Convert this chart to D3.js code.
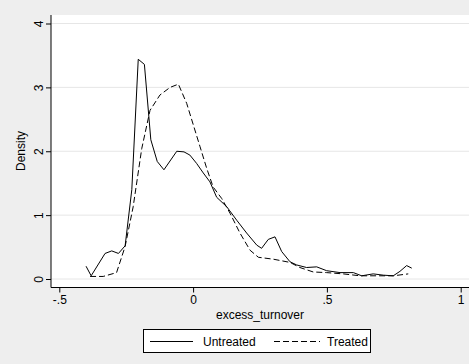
<!DOCTYPE html>
<html><head><meta charset="utf-8">
<script src="https://cdn.jsdelivr.net/npm/d3@7"></script>
<style>body{margin:0;background:#eeeeee}svg{display:block}</style>
</head><body>
<script>
const untreatedX = [-0.400,-0.381,-0.329,-0.304,-0.279,-0.254,-0.229,-0.205,-0.182,-0.158,-0.134,-0.109,-0.061,-0.034,-0.012,0.013,0.038,0.063,0.088,0.126,0.163,0.200,0.238,0.256,0.281,0.306,0.331,0.362,0.387,0.424,0.462,0.499,0.549,0.599,0.630,0.673,0.711,0.748,0.773,0.798,0.817];
const untreatedY = [0.20,0.05,0.40,0.44,0.40,0.52,1.40,3.44,3.36,2.18,1.84,1.71,2.00,1.99,1.94,1.81,1.66,1.52,1.28,1.13,0.92,0.72,0.53,0.48,0.62,0.66,0.43,0.27,0.22,0.18,0.19,0.13,0.10,0.10,0.05,0.08,0.06,0.05,0.12,0.21,0.17];
const treatedX = [-0.385,-0.336,-0.286,-0.254,-0.224,-0.192,-0.161,-0.124,-0.086,-0.055,-0.024,0.001,0.026,0.051,0.075,0.107,0.138,0.175,0.213,0.244,0.300,0.362,0.399,0.449,0.499,0.561,0.624,0.686,0.748,0.804];
const treatedY = [0.04,0.04,0.10,0.51,1.13,2.04,2.64,2.88,3.00,3.05,2.75,2.41,2.07,1.73,1.44,1.26,1.03,0.72,0.45,0.34,0.31,0.26,0.18,0.11,0.10,0.08,0.05,0.05,0.05,0.08];
const xTicks = [-0.5,0,0.5,1];
const xTickLabels = ["-.5","0",".5","1"];
const yTicks = [0,1,2,3,4];
const yTickLabels = ["0","1","2","3","4"];
const seriesNames = ["Untreated","Treated"];

const W=469,H=364;
const svg=d3.select("body").append("svg").attr("width",W).attr("height",H);
svg.append("rect").attr("width",W).attr("height",H).attr("fill","#eeeeee");
const x=d3.scaleLinear().domain([-0.5,1]).range([59.3,460.7]);
const y=d3.scaleLinear().domain([0,4]).range([279,23.5]);
const font="'Liberation Sans', Arial, sans-serif";
const fs=12;
// plot region
svg.append("rect").attr("x",51).attr("y",15).attr("width",W-51).attr("height",287-15).attr("fill","#ffffff");
// gridlines
svg.append("g").selectAll("line").data(yTicks).join("line")
  .attr("x1",51).attr("x2",W).attr("y1",d=>y(d)).attr("y2",d=>y(d))
  .attr("stroke","#e6e6e6").attr("stroke-width",1);
// axes
const yAxis=svg.append("g").attr("transform","translate(51,0)")
  .call(d3.axisLeft(y).tickValues(yTicks).tickFormat((d,i)=>yTickLabels[i]).tickSize(5).tickSizeOuter(0));
yAxis.select(".domain").remove();
yAxis.append("line").attr("x1",0).attr("x2",0).attr("y1",15).attr("y2",287.5).attr("stroke","#000");
yAxis.selectAll(".tick line").attr("stroke","#000");
yAxis.selectAll(".tick text").attr("font-family",font).attr("font-size",fs).attr("fill","#000")
  .attr("text-anchor","middle").attr("x",0).attr("y",0)
  .attr("transform","translate(-12.5,0) rotate(-90)").attr("dy","0.35em");
const xAxis=svg.append("g").attr("transform","translate(0,287.5)")
  .call(d3.axisBottom(x).tickValues(xTicks).tickFormat((d,i)=>xTickLabels[i]).tickSize(5).tickSizeOuter(0));
xAxis.select(".domain").remove();
xAxis.append("line").attr("x1",51).attr("x2",W).attr("y1",0).attr("y2",0).attr("stroke","#000");
xAxis.selectAll(".tick line").attr("stroke","#000");
xAxis.selectAll(".tick text").attr("font-family",font).attr("font-size",fs).attr("fill","#000").attr("y",8).attr("dy","0.71em");
// titles
svg.append("text").attr("x",260).attr("y",318.5).attr("text-anchor","middle")
  .attr("font-family",font).attr("font-size",fs).text("excess_turnover");
svg.append("text").attr("transform","translate(25,151) rotate(-90)").attr("text-anchor","middle")
  .attr("font-family",font).attr("font-size",fs).text("Density");
// lines
const line=d3.line().x(d=>x(d[0])).y(d=>y(d[1]));
const u=untreatedX.map((v,i)=>[v,untreatedY[i]]);
const t=treatedX.map((v,i)=>[v,treatedY[i]]);
svg.append("path").datum(u).attr("d",line).attr("fill","none").attr("stroke","#000").attr("stroke-width",1);
svg.append("path").datum(t).attr("d",line).attr("fill","none").attr("stroke","#000").attr("stroke-width",1).attr("stroke-dasharray","6,3");
// legend
const lg=svg.append("g");
lg.append("rect").attr("x",143.5).attr("y",329.5).attr("width",227).attr("height",23).attr("fill","#fff").attr("stroke","#000");
lg.append("line").attr("x1",150).attr("x2",193).attr("y1",341.5).attr("y2",341.5).attr("stroke","#000");
lg.append("text").attr("x",203).attr("y",345.5).attr("font-family",font).attr("font-size",fs).text(seriesNames[0]);
lg.append("line").attr("x1",274).attr("x2",320).attr("y1",341.5).attr("y2",341.5).attr("stroke","#000").attr("stroke-dasharray","6,3");
lg.append("text").attr("x",327).attr("y",345.5).attr("font-family",font).attr("font-size",fs).text(seriesNames[1]);
</script>
</body></html>
